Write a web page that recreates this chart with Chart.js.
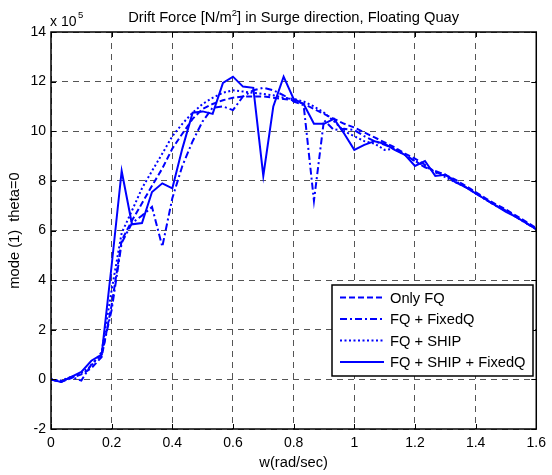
<!DOCTYPE html>
<html>
<head>
<meta charset="utf-8">
<script src="https://cdn.jsdelivr.net/npm/chart.js@4.4.0/dist/chart.umd.min.js"></script>
<style>
  html, body { margin: 0; padding: 0; background: #fff; }
  canvas { display: block; }
</style>
</head>
<body>
<canvas id="chart" width="552" height="475"></canvas>
<script>
// frequency w (rad/sec)
const omega = [0, 0.033, 0.067, 0.1, 0.133, 0.167, 0.2, 0.233, 0.267, 0.3,
  0.333, 0.367, 0.4, 0.433, 0.467, 0.5, 0.533, 0.567, 0.6, 0.633,
  0.667, 0.7, 0.733, 0.767, 0.8, 0.833, 0.867, 0.9, 0.933, 0.967,
  1.0, 1.033, 1.067, 1.1, 1.133, 1.167, 1.2, 1.233, 1.267, 1.3,
  1.333, 1.367, 1.4, 1.433, 1.467, 1.5, 1.533, 1.567, 1.6];

// drift force, in units of 1e5 N/m^2
const onlyFQ = [0, -0.1, 0.05, 0.2, 0.45, 0.9, 3.0, 5.6, 6.4, 7.1,
  7.8, 8.5, 9.3, 9.9, 10.5, 10.9, 11.1, 11.25, 11.35, 11.4,
  11.4, 11.4, 11.35, 11.3, 11.25, 11.1, 10.9, 10.7, 10.5, 10.3,
  10.15, 9.95, 9.75, 9.55, 9.35, 9.1, 8.9, 8.65, 8.35, 8.25,
  8.05, 7.8, 7.55, 7.3, 7.05, 6.85, 6.6, 6.35, 6.1];
const fqFixedQ = [0, -0.1, 0.1, -0.05, 0.6, 1.0, 2.8, 5.5, 6.3, 6.6,
  6.95, 5.35, 7.3, 8.6, 9.6, 10.4, 10.95, 11.0, 10.85, 11.4,
  11.65, 11.75, 11.65, 11.45, 11.2, 11.05, 7.2, 10.45, 10.05, 10.1,
  10.05, 9.8, 9.6, 9.45, 9.3, 9.05, 8.8, 8.55, 8.4, 8.25,
  8.0, 7.75, 7.5, 7.25, 7.0, 6.8, 6.55, 6.3, 6.05];
const fqShip = [0, -0.05, 0.1, 0.25, 0.55, 1.1, 3.6, 5.9, 6.8, 7.7,
  8.4, 9.1, 9.8, 10.3, 10.75, 11.1, 11.35, 11.55, 11.65, 11.6,
  11.55, 11.5, 11.45, 11.35, 11.3, 11.2, 11.0, 10.75, 10.4, 10.0,
  9.8, 9.6, 9.5, 9.25, 9.3, 9.05, 8.8, 8.6, 8.35, 8.15,
  7.95, 7.75, 7.5, 7.25, 7.0, 6.8, 6.55, 6.3, 6.05];
const fqShipFixedQ = [0, -0.1, 0.1, 0.3, 0.75, 1.0, 4.6, 8.4, 6.25, 6.3,
  7.55, 7.9, 7.7, 9.3, 10.75, 10.8, 10.7, 11.95, 12.2, 11.8,
  11.75, 8.2, 11.0, 12.2, 11.3, 11.1, 10.3, 10.3, 10.5, 9.9,
  9.25, 9.45, 9.6, 9.5, 9.25, 9.05, 8.6, 8.8, 8.2, 8.25,
  7.95, 7.75, 7.5, 7.25, 7.0, 6.75, 6.55, 6.3, 6.05];

const seriesLabels = ['Only FQ', 'FQ + FixedQ', 'FQ + SHIP', 'FQ + SHIP + FixedQ'];
const xTickValues = [0, 0.2, 0.4, 0.6, 0.8, 1, 1.2, 1.4, 1.6];
const yTickValues = [-2, 0, 2, 4, 6, 8, 10, 12, 14];

const FONT = '"Liberation Sans", Arial, sans-serif';
const BLUE = '#0000ff';

function points(values) {
  return omega.map((w, i) => ({ x: w, y: values[i] }));
}

function makeSet(label, values, dash) {
  return {
    label: label,
    data: points(values),
    borderColor: BLUE,
    borderWidth: 2,
    borderDash: dash,
    pointRadius: 0,
    tension: 0,
    fill: false
  };
}

// white background, box, inward ticks, titles and legend
const framePlugin = {
  id: 'frame',
  beforeDraw(chart) {
    const ctx = chart.ctx;
    ctx.save();
    ctx.fillStyle = '#fff';
    ctx.fillRect(0, 0, chart.width, chart.height);
    ctx.restore();
  },
  afterDraw(chart) {
    const { ctx, chartArea: a, scales: { x, y } } = chart;
    ctx.save();

    // inward ticks on all four sides
    ctx.strokeStyle = '#000';
    ctx.lineWidth = 1;
    ctx.beginPath();
    xTickValues.forEach(v => {
      const px = Math.round(x.getPixelForValue(v)) + 0.5;
      ctx.moveTo(px, a.bottom); ctx.lineTo(px, a.bottom - 5);
      ctx.moveTo(px, a.top); ctx.lineTo(px, a.top + 5);
    });
    yTickValues.forEach(v => {
      const py = Math.round(y.getPixelForValue(v)) + 0.5;
      ctx.moveTo(a.left, py); ctx.lineTo(a.left + 5, py);
      ctx.moveTo(a.right, py); ctx.lineTo(a.right - 5, py);
    });
    ctx.stroke();

    // axes box
    ctx.lineWidth = 1.5;
    ctx.strokeRect(a.left, a.top, a.right - a.left, a.bottom - a.top);

    // title with superscript
    ctx.fillStyle = '#000';
    ctx.textBaseline = 'alphabetic';
    const big = '14.7px ' + FONT, small = '9.5px ' + FONT;
    const t1 = 'Drift Force [N/m', t2 = '2', t3 = '] in Surge direction, Floating Quay';
    ctx.font = big;
    const w1 = ctx.measureText(t1).width, w3 = ctx.measureText(t3).width;
    ctx.font = small;
    const w2 = ctx.measureText(t2).width;
    let tx = (a.left + a.right) / 2 - (w1 + w2 + w3) / 2;
    const ty = 22;
    ctx.textAlign = 'left';
    ctx.font = big; ctx.fillText(t1, tx, ty); tx += w1;
    ctx.font = small; ctx.fillText(t2, tx, ty - 6); tx += w2;
    ctx.font = big; ctx.fillText(t3, tx, ty);

    // exponent label
    ctx.font = '14px ' + FONT;
    ctx.fillText('x 10', 50, 26);
    ctx.font = small;
    ctx.fillText('5', 78, 18);

    // axis titles
    ctx.font = '14.7px ' + FONT;
    ctx.textAlign = 'center';
    ctx.fillText('w(rad/sec)', (a.left + a.right) / 2, 467);
    ctx.save();
    ctx.translate(19, (a.top + a.bottom) / 2);
    ctx.rotate(-Math.PI / 2);
    ctx.fillText('mode (1)  theta=0', 0, 0);
    ctx.restore();

    // legend
    const lx = 332, ly = 285, lw = 201, lh = 91;
    ctx.fillStyle = '#fff';
    ctx.fillRect(lx, ly, lw, lh);
    ctx.strokeStyle = '#000';
    ctx.lineWidth = 1.5;
    ctx.strokeRect(lx, ly, lw, lh);
    chart.data.datasets.forEach((ds, i) => {
      const ry = ly + 12.5 + i * 21.5;
      ctx.strokeStyle = ds.borderColor;
      ctx.lineWidth = 2;
      ctx.setLineDash(ds.borderDash);
      ctx.beginPath();
      ctx.moveTo(lx + 8, ry); ctx.lineTo(lx + 52, ry);
      ctx.stroke();
      ctx.setLineDash([]);
      ctx.fillStyle = '#000';
      ctx.font = '14.7px ' + FONT;
      ctx.textAlign = 'left';
      ctx.textBaseline = 'middle';
      ctx.fillText(ds.label, lx + 58, ry + 1);
    });
    ctx.restore();
  }
};

new Chart(document.getElementById('chart'), {
  type: 'line',
  data: {
    datasets: [
      makeSet(seriesLabels[0], onlyFQ, [6, 3]),
      makeSet(seriesLabels[1], fqFixedQ, [7, 3, 2, 3]),
      makeSet(seriesLabels[2], fqShip, [2, 2.5]),
      makeSet(seriesLabels[3], fqShipFixedQ, [])
    ]
  },
  options: {
    responsive: false,
    animation: false,
    devicePixelRatio: 1,
    layout: { padding: { top: 32, right: 12, left: 0, bottom: 0 } },
    plugins: {
      legend: { display: false },
      title: { display: false },
      tooltip: { enabled: false }
    },
    scales: {
      x: {
        type: 'linear',
        min: 0,
        max: 1.6,
        afterFit: s => { s.height = 46; },
        afterBuildTicks: s => { s.ticks = xTickValues.map(v => ({ value: v })); },
        ticks: {
          color: '#000',
          font: { family: FONT, size: 14 },
          padding: 6,
          maxRotation: 0,
          callback: v => String(+v.toFixed(1))
        },
        grid: { color: '#555', lineWidth: 1, drawTicks: false },
        border: { display: false, dash: [6, 5] }
      },
      y: {
        type: 'linear',
        min: -2,
        max: 14,
        afterFit: s => { s.width = 51; },
        afterBuildTicks: s => { s.ticks = yTickValues.map(v => ({ value: v })); },
        ticks: {
          color: '#000',
          font: { family: FONT, size: 14 },
          padding: 5
        },
        grid: { color: '#555', lineWidth: 1, drawTicks: false },
        border: { display: false, dash: [6, 5] }
      }
    }
  },
  plugins: [framePlugin]
});
</script>
</body>
</html>
